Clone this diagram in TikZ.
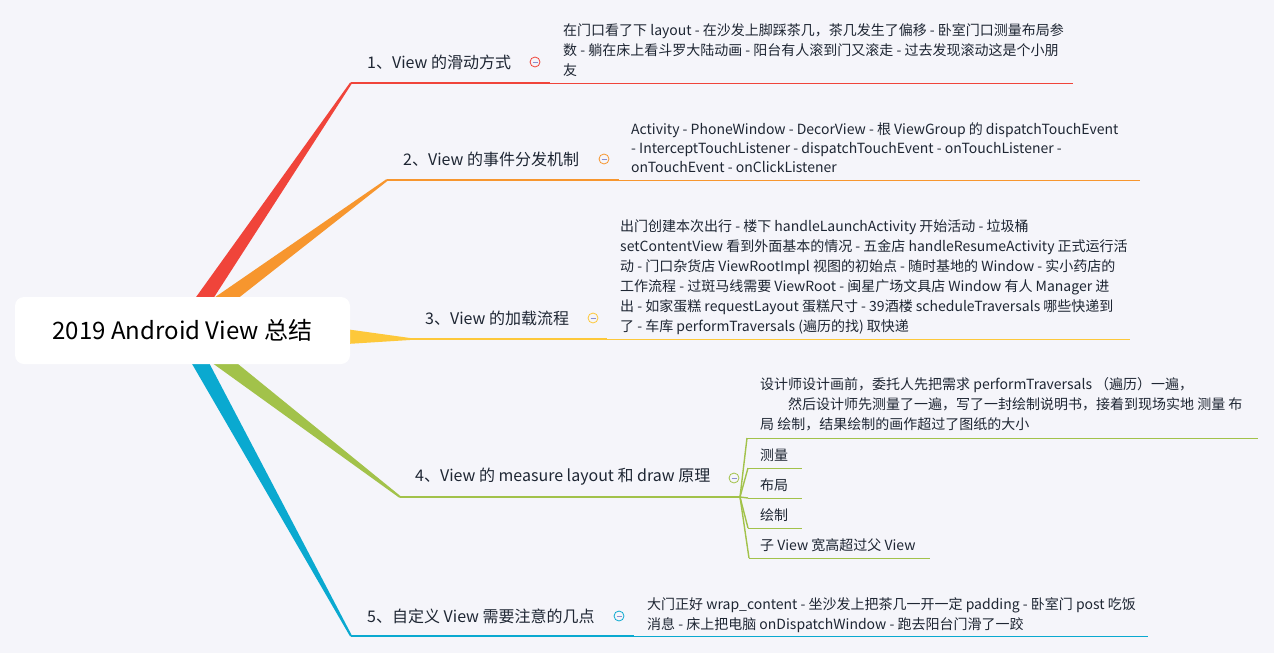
\documentclass[tikz,border=0pt]{standalone}
\usepackage{fontspec}
\setmainfont{Noto Sans CJK SC}
\usetikzlibrary{calc}
\definecolor{bg}{HTML}{F5F5FA}
\definecolor{cred}{HTML}{F0443A}
\definecolor{corange}{HTML}{F7962E}
\definecolor{cyellow}{HTML}{FDC83A}
\definecolor{cgreen}{HTML}{A2C24A}
\definecolor{cblue}{HTML}{0AA9D0}
\definecolor{ctext}{HTML}{1E2633}
\definecolor{cminus}{HTML}{8A8FD0}
\newcommand{\taperbranch}[4]{%
  \fill[#4] ($(#1)!#3!90:(#2)$) -- ($(#2)!1pt!-90:(#1)$) -- ($(#2)!1pt!90:(#1)$) -- ($(#1)!#3!-90:(#2)$) -- cycle;}
\begin{document}
\begin{tikzpicture}[x=1pt,y=-1pt,
  topic/.style={anchor=west, inner sep=0pt, font=\fontsize{16}{19}\selectfont, text=ctext},
  detail/.style={anchor=north west, inner sep=0pt, align=left, font=\fontsize{14}{20}\selectfont, text=ctext},
  subitem/.style={anchor=west, inner sep=0pt, font=\fontsize{14}{20}\selectfont, text=ctext},
  thickline/.style={line width=2pt},
  thinline/.style={line width=1pt},
  forkline/.style={line width=1.4pt, cgreen},
  fold/.style={circle, draw=#1, line width=0.8pt, minimum size=10pt, inner sep=0pt,
    path picture={\draw[cminus, line width=0.9pt] ([xshift=-2.5pt]path picture bounding box.center) -- ([xshift=2.5pt]path picture bounding box.center);}},
]
\fill[bg] (0,0) rectangle (1274,653);
\useasboundingbox (0,0) rectangle (1274,653);

% root and branch tips
\coordinate (rc) at (182.5,330.5);
\coordinate (t1) at (351,83);
\coordinate (t2) at (387,180);
\coordinate (t3) at (410,339);
\coordinate (t4) at (400,497);
\coordinate (t5) at (351,636);

\taperbranch{rc}{t1}{8.5pt}{cred}
\taperbranch{rc}{t2}{9pt}{corange}
\taperbranch{rc}{t3}{24pt}{cyellow}
\taperbranch{rc}{t4}{9pt}{cgreen}
\taperbranch{rc}{t5}{8.5pt}{cblue}

\node[fill=white, rounded corners=9pt, minimum width=335pt, minimum height=67pt,
  font=\fontsize{24}{28}\selectfont, text=black] (root) at (rc) {2019 Android View 总结};

% junction points
\coordinate (j1) at (550,83);   \coordinate (d1) at (1073,83);
\coordinate (j2) at (619,180);  \coordinate (d2) at (1140,180);
\coordinate (j3) at (607,339);  \coordinate (d3) at (1130,339);
\coordinate (j4) at (740,497);
\coordinate (j5) at (634,636);  \coordinate (d5) at (1148,636);

% underlines
\draw[thickline, cred] (t1) -- (j1);   \draw[thinline, cred] (j1) -- (d1);
\draw[thickline, corange] (t2) -- (j2); \draw[thinline, corange] (j2) -- (d2);
\draw[thickline, cyellow] (t3) -- (j3); \draw[thinline, cyellow] (j3) -- (d3);
\draw[thickline, cgreen] (t4) -- (j4);
\draw[thickline, cblue] (t5) -- (j5);  \draw[thinline, cblue] (j5) -- (d5);

% branch 4 fork
\coordinate (s0) at (747,438); \coordinate (e0) at (1258,438);
\coordinate (s1) at (748,468); \coordinate (e1) at (802,468);
\coordinate (s2) at (748,498); \coordinate (e2) at (802,498);
\coordinate (s3) at (748,528); \coordinate (e3) at (802,528);
\coordinate (s4) at (749,558); \coordinate (e4) at (930,558);
\foreach \i in {0,...,4} {
  \draw[forkline] (j4) -- (s\i);
  \draw[thinline, cgreen] (s\i) -- (e\i);
}

% topics
\node[topic] (n1) at (367,62) {1、View 的滑动方式};
\node[topic] (n2) at (403,159) {2、View 的事件分发机制};
\node[topic] (n3) at (425,318) {3、View 的加载流程};
\node[topic] (n4) at (415,477) {4、View 的 measure layout 和 draw 原理};
\node[topic] (n5) at (367,616) {5、自定义 View 需要注意的几点};

% fold icons
\node[fold=cred] (f1) at (535,62) {};
\node[fold=corange] (f2) at (604,159) {};
\node[fold=cyellow] (f3) at (593,318) {};
\node[fold=cgreen] (f4) at (734,478) {};
\node[fold=cblue] (f5) at (619,616) {};

% details
\node[detail] (x1) at (563,23) {在门口看了下 layout - 在沙发上脚踩茶几，茶几发生了偏移 - 卧室门口测量布局参\\数 - 躺在床上看斗罗大陆动画 - 阳台有人滚到门又滚走 - 过去发现滚动这是个小朋\\友};
\node[detail, font=\fontsize{14}{19}\selectfont] (x2) at (631,122) {Activity - PhoneWindow - DecorView - 根 ViewGroup 的 dispatchTouchEvent\\{}- InterceptTouchListener - dispatchTouchEvent - onTouchListener -\\onTouchEvent - onClickListener};
\node[detail] (x3) at (620,219) {出门创建本次出行 - 楼下 handleLaunchActivity 开始活动 - 垃圾桶\\setContentView 看到外面基本的情况 - 五金店 handleResumeActivity 正式运行活\\动 - 门口杂货店 ViewRootImpl 视图的初始点 - 随时基地的 Window - 实小药店的\\工作流程 - 过斑马线需要 ViewRoot - 闽星广场文具店 Window 有人 Manager 进\\出 - 如家蛋糕 requestLayout 蛋糕尺寸 - 39酒楼 scheduleTraversals 哪些快递到\\了 - 车库 performTraversals (遍历的找) 取快递};
\node[detail] (x4) at (760,377) {设计师设计画前，委托人先把需求 performTraversals （遍历）一遍，\\\hspace*{28pt}然后设计师先测量了一遍，写了一封绘制说明书，接着到现场实地 测量 布\\局 绘制，结果绘制的画作超过了图纸的大小};
\node[subitem] (y1) at (760,455) {测量};
\node[subitem] (y2) at (760,485) {布局};
\node[subitem] (y3) at (760,515) {绘制};
\node[subitem] (y4) at (760,545) {子 View 宽高超过父 View};
\node[detail] (x5) at (647,597) {大门正好 wrap\_content - 坐沙发上把茶几一开一定 padding - 卧室门 post 吃饭\\消息 - 床上把电脑 onDispatchWindow - 跑去阳台门滑了一跤};
\end{tikzpicture}
\end{document}
